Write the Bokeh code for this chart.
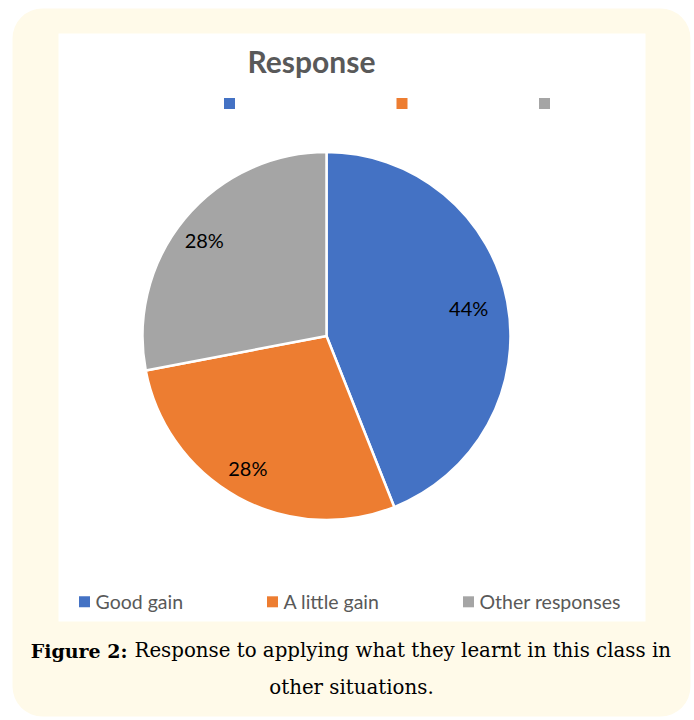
import numpy as np
from bokeh.plotting import figure
from bokeh.models import BoxAnnotation, ColumnDataSource, Range1d
from bokeh.core.properties import value
from bokeh.embed import file_html
from bokeh.resources import INLINE

# ---- data ----
categories = ["Good gain", "A little gain", "Other responses"]
shares = [44, 28, 28]
labels = ["44%", "28%", "28%"]
colors = ["#4472C4", "#ED7D31", "#A5A5A5"]
title = "Response"
caption_bold = "Figure 2:"
caption_rest = "Response to applying what they learnt in this class in"
caption_line2 = "other situations."

W, H = 694, 720
def Y(y):
    return H - y

p = figure(width=W, height=H, x_range=Range1d(0, W), y_range=Range1d(0, H),
           output_backend="svg", toolbar_location=None, min_border=0,
           x_axis_type=None, y_axis_type=None)
p.grid.visible = False
p.outline_line_color = None
p.background_fill_color = "white"
p.border_fill_color = "white"

# cream rounded panel and white chart area
p.add_layout(BoxAnnotation(left=12, right=690, top=Y(8), bottom=Y(716),
                           fill_color="#fffae9", fill_alpha=1, line_color=None,
                           border_radius=30, level="underlay"))
p.add_layout(BoxAnnotation(left=58, right=645, top=Y(33), bottom=Y(621),
                           fill_color="white", fill_alpha=1, line_color=None,
                           level="underlay"))

# pie
cx, cy, r = 326, Y(335.5), 184
frac = np.array(shares, dtype=float) / sum(shares)
cum = np.cumsum(frac)
start = np.pi / 2 - (cum - frac) * 2 * np.pi
end = np.pi / 2 - cum * 2 * np.pi
src = ColumnDataSource(dict(start=start, end=end, color=colors, cat=categories))
p.wedge(x=cx, y=cy, radius=r, start_angle="start", end_angle="end",
        direction="clock", fill_color="color", line_color="white", line_width=2.5,
        source=src)

# data labels
mid = (start + end) / 2
k = 0.82 * r
lx = cx + k * np.cos(mid) - 6
ly = cy + k * np.sin(mid)
p.text(x=lx, y=ly, text=labels, text_align="center", text_baseline="middle",
       text_font=value("Lato"), text_font_size="20px", text_color="#000000")

# title
p.text(x=[311], y=[Y(60.5)], text=[title], text_align="center",
       text_baseline="middle", text_font=value("Lato"),
       text_font_size="30px", text_font_style="bold", text_color="#595959")

# top legend markers (no text)
p.scatter(x=[229, 401.5, 544], y=[Y(103)] * 3, marker="square", size=11,
          fill_color=colors, line_color=None)

# bottom legend
lgx = [84, 272, 468]
p.scatter(x=lgx, y=[Y(601.3)] * 3, marker="square", size=11,
          fill_color=colors, line_color=None)
p.text(x=[x + 11 for x in lgx], y=[Y(601)] * 3, text=categories,
       text_align="left", text_baseline="middle", text_font=value("Lato"),
       text_font_size="19.5px", text_color="#595959")

# caption
p.text(x=[127], y=[Y(650)], text=[caption_bold], text_align="right",
       text_baseline="middle", text_font=value("DejaVu Serif"),
       text_font_size="19px", text_font_style="bold", text_color="#000000")
p.text(x=[134], y=[Y(650)], text=[caption_rest], text_align="left",
       text_baseline="middle", text_font=value("DejaVu Serif"),
       text_font_size="19.8px", text_color="#000000")
p.text(x=[351], y=[Y(687)], text=[caption_line2], text_align="center",
       text_baseline="middle", text_font=value("DejaVu Serif"),
       text_font_size="19.8px", text_color="#000000")

open("out.html", "w").write(file_html(p, INLINE))
